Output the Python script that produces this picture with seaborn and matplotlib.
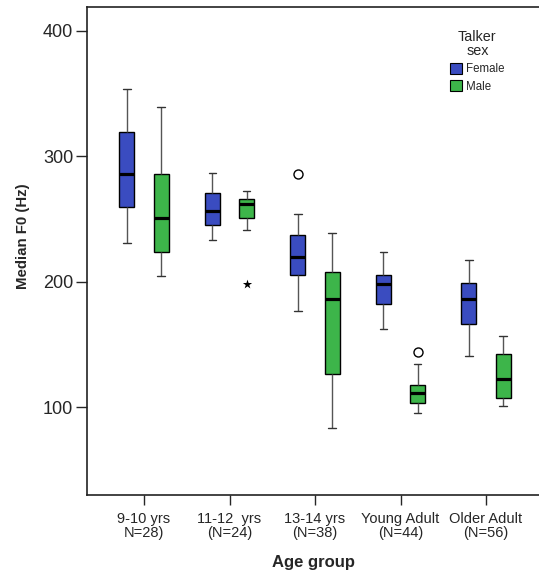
import matplotlib
matplotlib.use("Agg")
import matplotlib.pyplot as plt
import numpy as np
import pandas as pd
import seaborn as sns
from matplotlib.patches import Patch

# age groups (tick labels as printed in the source)
groups = ["9-10 yrs\nN=28)", "11-12  yrs\n(N=24)", "13-14 yrs\n(N=38)",
          "Young Adult\n(N=44)", "Older Adult\n(N=56)"]
sexes = ["Female", "Male"]

# five-number summaries (Hz)
female_lo = [231, 233, 177, 162, 141]
female_q1 = [259.5, 245, 205, 182, 166]
female_med = [285.5, 256, 220, 198, 186]
female_q3 = [319, 271, 237, 205, 199]
female_hi = [354, 287, 254, 224, 217]

male_lo = [204.5, 241.5, 83.5, 95, 101]
male_q1 = [223.5, 250.5, 126.5, 103.5, 107.5]
male_med = [251, 262, 186, 111, 122.5]
male_q3 = [286, 266, 208, 117.5, 142.5]
male_hi = [339, 272.5, 239, 134.5, 157]

# outliers
circle_group = ["13-14 yrs\n(N=38)", "Young Adult\n(N=44)"]
circle_sex = ["Female", "Male"]
circle_val = [286, 144]
star_group = ["11-12  yrs\n(N=24)"]
star_sex = ["Male"]
star_val = [198]

colors = {"Female": "#3A4CC0", "Male": "#3DB54A"}

rows = []
for sex, stats in [("Female", [female_lo, female_q1, female_med, female_q3, female_hi]),
                   ("Male", [male_lo, male_q1, male_med, male_q3, male_hi])]:
    for i, g in enumerate(groups):
        for s in stats:
            rows.append({"group": g, "sex": sex, "f0": s[i]})
df = pd.DataFrame(rows)
circles = pd.DataFrame({"group": circle_group, "sex": circle_sex, "f0": circle_val})
stars = pd.DataFrame({"group": star_group, "sex": star_sex, "f0": star_val})

sns.set_theme(style="white")
plt.rcParams["font.family"] = ["Liberation Sans", "DejaVu Sans"]

fig = plt.figure(figsize=(5.39, 5.75), dpi=100)
ax = fig.add_axes([87 / 539, 80 / 575, 1 - 87 / 539, 488 / 575])

sns.boxplot(data=df, x="group", y="f0", hue="sex", order=groups, hue_order=sexes,
            palette=colors, saturation=1, width=0.8, gap=0.56, whis=(0, 100),
            showfliers=False, linecolor="black", linewidth=1, legend=False, ax=ax,
            whiskerprops={"color": "#555555"}, capprops={"color": "#333333"},
            medianprops={"linewidth": 2.3, "color": "black"})

sns.stripplot(data=circles, x="group", y="f0", hue="sex", order=groups, hue_order=sexes,
              palette={"Female": "white", "Male": "white"}, dodge=True, jitter=False,
              marker="o", size=6.5, edgecolor="black", linewidth=1, legend=False, ax=ax)
sns.stripplot(data=stars, x="group", y="f0", hue="sex", order=groups, hue_order=sexes,
              palette={"Female": "black", "Male": "black"}, dodge=True, jitter=False,
              marker="*", size=7, legend=False, ax=ax)

ax.set_xlim(-0.667, 4.62)
ax.set_ylim(30, 419)
ax.set_yticks([100, 200, 300, 400])
ax.tick_params(axis="y", labelsize=13, length=8, width=1, direction="out", left=True, pad=2)
ax.tick_params(axis="x", labelsize=10.5, length=7, width=1, direction="out", bottom=True, pad=5)
for lab in ax.get_xticklabels():
    lab.set_linespacing(1.05)

for side in ["left", "bottom", "top"]:
    ax.spines[side].set_color("#222222")
    ax.spines[side].set_linewidth(1.2)
ax.spines["right"].set_visible(False)

ax.set_xlabel("Age group", fontsize=12, fontweight="bold", labelpad=11)
ax.set_ylabel("Median F0 (Hz)", fontsize=10.8, fontweight="bold")
ax.yaxis.set_label_coords(-0.125, 0.53)

handles = [Patch(facecolor=colors[s], edgecolor="black", linewidth=0.8, label=s) for s in sexes]
leg = ax.legend(handles=handles, title="Talker\nsex", loc="upper left",
                bbox_to_anchor=(450 / 539, 1 - 30 / 575), bbox_transform=fig.transFigure,
                frameon=False, fontsize=8.3, title_fontsize=10.4, borderpad=0,
                handlelength=1.0, handleheight=1.0, handletextpad=0.4, labelspacing=0.45,
                borderaxespad=0, alignment="center")
leg.get_title().set_linespacing(1.0)
leg.get_title().set_horizontalalignment("center")

fig.savefig("out.png", dpi=100)
